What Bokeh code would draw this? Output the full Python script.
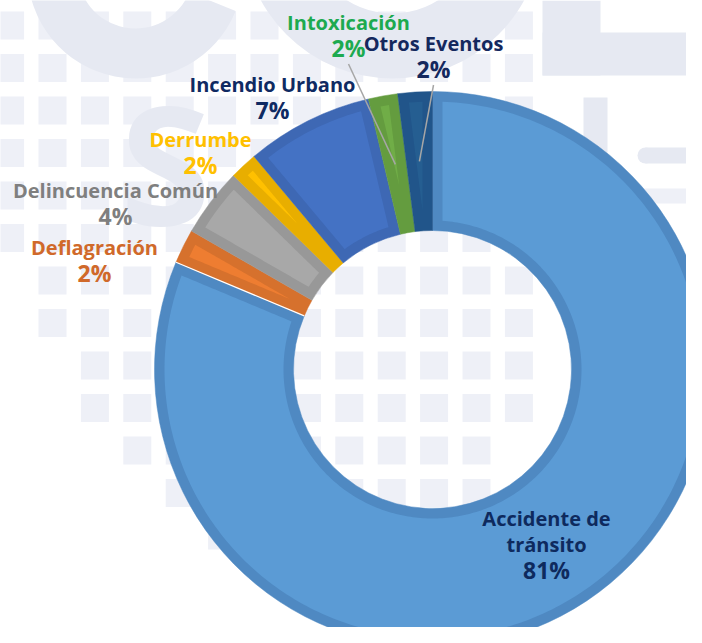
import numpy as np
from bokeh.plotting import figure
from bokeh.models import Range1d, ColumnDataSource
from bokeh.core.properties import value
from bokeh.embed import file_html
from bokeh.resources import INLINE

# ---------------- data ----------------
categories = ["Accidente de tránsito", "Deflagración", "Delincuencia Común",
              "Derrumbe", "Incendio Urbano", "Intoxicación", "Otros Eventos"]
shares = [81.3, 2.0, 4.0, 1.6, 7.4, 1.7, 2.0]
name_lines = [["Accidente de", "tránsito"], ["Deflagración"], ["Delincuencia Común"],
              ["Derrumbe"], ["Incendio Urbano"], ["Intoxicación"], ["Otros Eventos"]]

# ---------------- style ----------------
light_colors = ["#5B9BD5", "#EE7D31", "#A8A8A8", "#FFC000", "#4472C4", "#70AD47", "#255E91"]
dark_colors = ["#4F89C2", "#D6712D", "#989898", "#E8AE00", "#3E68B4", "#649C3F", "#21558A"]
label_colors = ["#0E2A5E", "#D0692A", "#7F7F7F", "#FFC000", "#0F2A62", "#1DAA50", "#14285E"]
# label anchor (page pixels, centre of first line)
label_pos = [(546, 518), (94, 247), (115, 190), (200, 139), (272, 84), (348, 22), (433, 43)]
leader = [False, False, False, False, False, True, True]

W, H = 686, 627
PAGE_H = 643


def Y(y_screen):
    return PAGE_H - y_screen


CX, CY = 432, Y(369)
R_OUT, R_IN, BEV = 278, 139, 10

p = figure(width=W, height=H, output_backend="svg", toolbar_location=None,
           x_range=Range1d(0, W), y_range=Range1d(PAGE_H - H, PAGE_H),
           min_border=0, outline_line_color=None, background_fill_color="white")
p.axis.visible = False
p.grid.visible = False

# ---------------- watermark (decoration) ----------------
wm = "#E6E9F2"
sq = "#EEF0F7"
xs_sq, ys_sq = [], []
max_row = {-1: 5, 0: 7, 1: 9, 2: 10, 3: 11, 11: 9}
for k in range(-1, 12):
    for j in range(0, 14):
        if j > max_row.get(k, 12):
            continue
        xs_sq.append(38 + 42.4 * k + 14)
        ys_sq.append(Y(11 + 42.5 * j + 14))
p.rect(x=xs_sq, y=ys_sq, width=28, height=28, fill_color=sq, line_color=None)

p.annular_wedge(x=[135], y=[Y(-30)], inner_radius=58, outer_radius=108,
                start_angle=np.deg2rad(180), end_angle=np.deg2rad(338),
                direction="anticlock", fill_color=wm, line_color=None)
p.annular_wedge(x=[392], y=[Y(-72)], inner_radius=85, outer_radius=150,
                start_angle=np.deg2rad(180), end_angle=np.deg2rad(360),
                direction="anticlock", fill_color=wm, line_color=None)
p.quad(left=[542, 542], right=[600, 702], top=[Y(0), Y(32)], bottom=[Y(75), Y(75)],
       fill_color=wm, line_color=None)
p.quad(left=[583], right=[607], top=[Y(97)], bottom=[Y(300)], fill_color=wm, line_color=None)
p.quad(left=[645], right=[702], top=[Y(147)], bottom=[Y(163)], fill_color=wm, line_color=None)
p.circle(x=[645], y=[Y(155)], radius=8, fill_color=wm, line_color=None)
p.quad(left=[603], right=[702], top=[Y(188)], bottom=[Y(203)], fill_color=sq, line_color=None)
p.text(x=[165], y=[Y(160)], text=["S"], text_font=value("Open Sans"), text_font_style="bold",
       text_font_size="165px", text_color=wm, text_align="center", text_baseline="middle")

# ---------------- donut ----------------
vals = np.array(shares, dtype=float)
frac = vals / vals.sum()
cum = np.concatenate([[0], np.cumsum(frac)])
a_start = np.pi / 2 - 2 * np.pi * cum[:-1]
a_end = np.pi / 2 - 2 * np.pi * cum[1:]

src = ColumnDataSource(dict(start=a_start, end=a_end, color=dark_colors))
p.annular_wedge(x=CX, y=CY, inner_radius=R_IN, outer_radius=R_OUT,
                start_angle="start", end_angle="end", direction="clock",
                fill_color="color", line_color="color", line_width=0.5, source=src)


def bevel(a1, a2, ri, ro, d):
    span = a1 - a2
    r0 = d / np.sin(span / 2) if span < np.pi else 0
    rlo = max(ri + d, r0 + 0.5)
    rhi = ro - d
    if rlo >= rhi:
        return None
    rs = np.linspace(rlo, rhi, 40)
    phs = a1 - np.arcsin(d / rs)
    phe = a2 + np.arcsin(d / rs)
    n = max(4, int(abs(phs[-1] - phe[-1]) * 60))
    oa = np.linspace(phs[-1], phe[-1], n)
    ia = np.linspace(phe[0], phs[0], n)
    xs = np.concatenate([CX + rs * np.cos(phs), CX + rhi * np.cos(oa),
                         CX + rs[::-1] * np.cos(phe[::-1]), CX + rlo * np.cos(ia)])
    ys = np.concatenate([CY + rs * np.sin(phs), CY + rhi * np.sin(oa),
                         CY + rs[::-1] * np.sin(phe[::-1]), CY + rlo * np.sin(ia)])
    return xs, ys


bx, by, bc = [], [], []
for i in range(len(vals)):
    res = bevel(a_start[i], a_end[i], R_IN, R_OUT, BEV)
    if res is not None:
        bx.append(res[0]); by.append(res[1]); bc.append(light_colors[i])
p.patches(xs=bx, ys=by, fill_color=bc, line_color=None)

# thin white separator where the largest slice ends
p.segment(x0=[CX + R_IN * np.cos(a_end[0])], y0=[CY + R_IN * np.sin(a_end[0])],
          x1=[CX + R_OUT * np.cos(a_end[0])], y1=[CY + R_OUT * np.sin(a_end[0])],
          line_color="white", line_width=1.2)

# ---------------- labels ----------------
pct = [f"{int(round(f * 100))}%" for f in frac]
tx, ty, tt, tcol, tsize = [], [], [], [], []
lx0, ly0, lx1, ly1 = [], [], [], []
for i in range(len(vals)):
    x0, y0 = label_pos[i]
    yy = y0
    for line in name_lines[i]:
        tx.append(x0); ty.append(Y(yy)); tt.append(line); tcol.append(label_colors[i]); tsize.append("20px")
        yy += 25.5
    tx.append(x0); ty.append(Y(yy)); tt.append(pct[i]); tcol.append(label_colors[i]); tsize.append("23px")
    if leader[i]:
        mid = (a_start[i] + a_end[i]) / 2
        rm = (R_IN + R_OUT) / 2
        lx0.append(x0); ly0.append(Y(yy + 16))
        lx1.append(CX + rm * np.cos(mid)); ly1.append(CY + rm * np.sin(mid))

p.segment(x0=lx0, y0=ly0, x1=lx1, y1=ly1, line_color="#A6A6A6", line_width=1.5)
p.text(x=tx, y=ty, text=tt, text_color=tcol, text_font_size=tsize,
       text_font=value("Open Sans"), text_font_style="bold",
       text_align="center", text_baseline="middle")

open("out.html", "w").write(file_html(p, INLINE))
